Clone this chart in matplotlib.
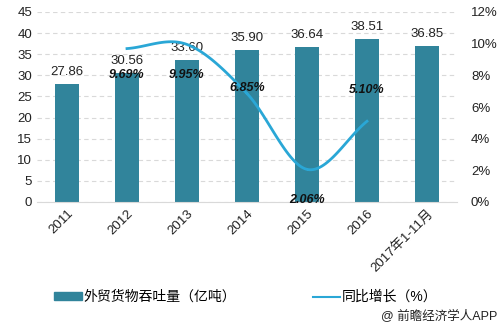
import matplotlib.pyplot as plt
import numpy as np
from matplotlib.lines import Line2D
from matplotlib.patches import Patch

plt.rcParams['font.family'] = ['Liberation Sans', 'Noto Sans CJK SC', 'DejaVu Sans']

years = ['2011', '2012', '2013', '2014', '2015', '2016', '2017年1-11月']
throughput = [27.86, 30.56, 33.60, 35.90, 36.64, 38.51, 36.85]
growth_years = ['2012', '2013', '2014', '2015', '2016']
growth = [9.69, 9.95, 6.85, 2.06, 5.10]
# where the growth labels sit (percent axis units)
growth_label_y = [8.0, 8.0, 7.2, 0.15, 7.05]

bar_color = '#31849b'
line_color = '#2aa7d6'


def smooth(xs, ys, n=30):
    # catmull-rom style smoothing, like excel's smoothed line
    xs = np.asarray(xs, float)
    ys = np.asarray(ys, float)
    px = np.concatenate([[2 * xs[0] - xs[1]], xs, [2 * xs[-1] - xs[-2]]])
    py = np.concatenate([[2 * ys[0] - ys[1]], ys, [2 * ys[-1] - ys[-2]]])
    out_x, out_y = [], []
    for i in range(1, len(px) - 2):
        t = np.linspace(0, 1, n)
        for p, out in ((px, out_x), (py, out_y)):
            p0, p1, p2, p3 = p[i - 1], p[i], p[i + 1], p[i + 2]
            out.extend(0.5 * (2 * p1 + (-p0 + p2) * t
                              + (2 * p0 - 5 * p1 + 4 * p2 - p3) * t ** 2
                              + (-p0 + 3 * p1 - 3 * p2 + p3) * t ** 3))
    return out_x, out_y


fig = plt.figure(figsize=(5.02, 3.27), dpi=100)
ax = fig.add_axes([37 / 502, 125 / 327, 420 / 502, 190 / 327])
ax2 = ax.twinx()

x = np.arange(len(years))
ax.bar(x, throughput, width=0.4, color=bar_color, zorder=2)
for xi, v in zip(x, throughput):
    ax.text(xi, v + 1.5, f'{v:.2f}', ha='center', va='bottom', fontsize=9.5, color='#222222')

ax.set_ylim(0, 45)
ax.set_yticks(range(0, 46, 5))
ax.set_xlim(-0.5, len(years) - 0.5)
ax.set_xticks(x)
ax.set_xticklabels(years, rotation=45, ha='right', rotation_mode='anchor', fontsize=9.5)
ax.grid(axis='y', color='#d9d9d9', linestyle=(0, (4, 3)), linewidth=0.8, zorder=0)
ax.set_axisbelow(True)
for s in ax.spines.values():
    s.set_visible(False)
ax.spines['bottom'].set_visible(True)
ax.spines['bottom'].set_color('#d9d9d9')
ax.tick_params(axis='both', length=0, labelsize=9.5, colors='#222222')
ax.tick_params(axis='x', pad=4)

gx = [years.index(g) for g in growth_years]
sx, sy = smooth(gx, growth)
ax2.plot(sx, sy, color=line_color, linewidth=2, zorder=3)
for xi, v, ly in zip(gx, growth, growth_label_y):
    ax2.text(xi, ly, f'{v:.2f}%', ha='center', va='center', fontsize=9,
             fontweight='bold', fontstyle='italic', color='#111111')
ax2.set_ylim(0, 12)
ax2.set_yticks(range(0, 13, 2))
ax2.set_yticklabels([f'{t}%' for t in range(0, 13, 2)])
ax2.tick_params(axis='y', length=0, labelsize=9.5, colors='#222222', pad=10)
for s in ax2.spines.values():
    s.set_visible(False)

handles = [Patch(color=bar_color), Line2D([0], [0], color=line_color, linewidth=1.5)]
fig.legend(handles, ['外贸货物吞吐量（亿吨）', '同比增长（%）'], loc='center',
           bbox_to_anchor=(0.49, 1 - 297 / 327), ncol=2, frameon=False, fontsize=10,
           handlelength=2.0, handleheight=0.5, handletextpad=0.1, columnspacing=5.5)

fig.text(0.99, 1 - 316 / 327, '@ 前瞻经济学人APP', ha='right', va='center', fontsize=9, color='#222222')

fig.savefig('out.png', dpi=100)
